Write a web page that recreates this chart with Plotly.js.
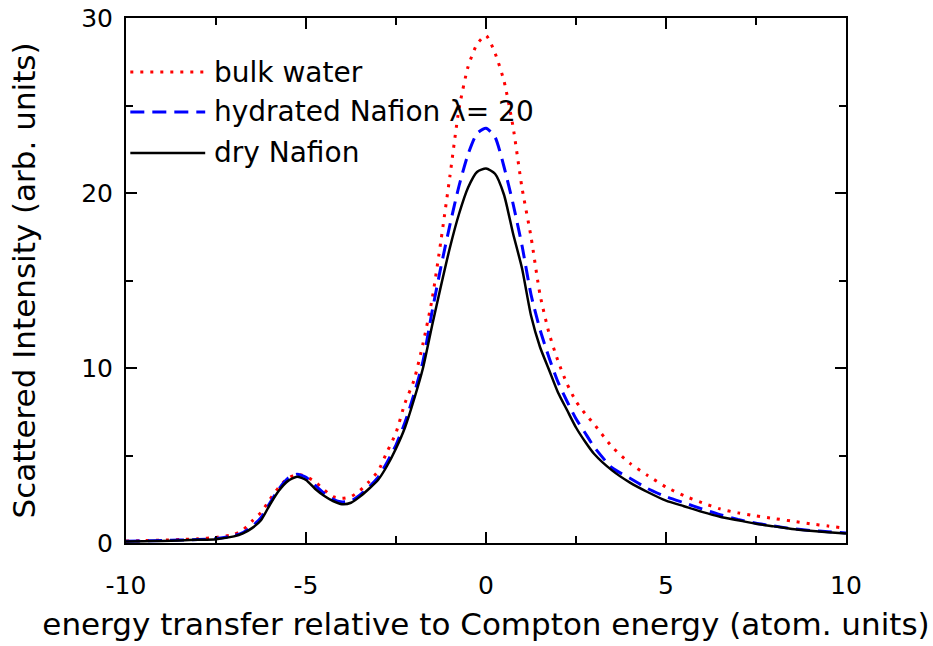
<!DOCTYPE html>
<html>
<head>
<meta charset="utf-8">
<script src="https://cdn.plot.ly/plotly-3.0.1.min.js"></script>
<style>html,body{margin:0;padding:0;background:#fff;}#chart{width:933px;height:646px;}</style>
</head>
<body>
<div id="chart"></div>
<script>
// energy transfer relative to Compton energy (atom. units)
const energy = [-10, -9.5, -9, -8.5, -8, -7.5, -7, -6.75, -6.5, -6.25, -6, -5.75, -5.5, -5.25, -5, -4.75, -4.5, -4.25, -4, -3.75, -3.5, -3.25, -3, -2.75, -2.5, -2.25, -2, -1.75, -1.5, -1.25, -1, -0.75, -0.5, -0.25, 0, 0.25, 0.5, 0.75, 1, 1.25, 1.5, 1.75, 2, 2.25, 2.5, 2.75, 3, 3.5, 4, 4.5, 5, 5.5, 6, 6.5, 7, 7.5, 8, 8.5, 9, 9.5, 10];

const bulkWater = [0.11, 0.14, 0.16, 0.2, 0.24, 0.32, 0.5, 0.75, 1.25, 1.75, 2.5, 3.2, 3.7, 3.93, 3.8, 3.5, 3.05, 2.65, 2.55, 2.65, 3.0, 3.5, 4.1, 5.2, 6.3, 8.0, 9.3, 11.4, 13.9, 17.3, 21.0, 24.8, 27.2, 28.5, 29.0, 28.0, 26.4, 23.8, 20.3, 17.5, 14.2, 12.0, 10.4, 9.1, 8.1, 7.4, 6.8, 5.5, 4.55, 3.85, 3.2, 2.7, 2.3, 1.95, 1.72, 1.55, 1.4, 1.25, 1.1, 0.97, 0.84];

const hydratedNafion = [0.1, 0.12, 0.14, 0.17, 0.2, 0.25, 0.42, 0.6, 0.95, 1.45, 2.3, 3.1, 3.7, 3.93, 3.75, 3.3, 2.85, 2.5, 2.35, 2.4, 2.75, 3.2, 3.75, 4.6, 5.6, 6.9, 8.5, 10.4, 13.2, 15.8, 18.2, 20.4, 22.2, 23.4, 23.7, 23.2, 21.5, 19.4, 17.0, 14.2, 12.2, 10.6, 9.2, 8.1, 7.1, 6.3, 5.5, 4.3, 3.7, 3.1, 2.65, 2.3, 1.95, 1.62, 1.35, 1.13, 0.97, 0.82, 0.72, 0.64, 0.57];

const dryNafion = [0.08, 0.1, 0.12, 0.15, 0.18, 0.22, 0.38, 0.55, 0.85, 1.3, 2.2, 3.0, 3.55, 3.79, 3.6, 3.1, 2.7, 2.4, 2.22, 2.3, 2.65, 3.1, 3.6, 4.4, 5.4, 6.6, 8.2, 10.0, 12.4, 14.7, 16.9, 18.8, 20.3, 21.2, 21.4, 21.1, 19.9, 17.7, 15.7, 13.0, 11.2, 9.9, 8.6, 7.6, 6.6, 5.8, 5.1, 4.15, 3.45, 2.9, 2.42, 2.1, 1.78, 1.5, 1.3, 1.1, 0.95, 0.8, 0.7, 0.62, 0.55];

const seriesNames = ["bulk water", "hydrated Nafion \u03bb= 20", "dry Nafion"];
const xTickVals = [-10, -5, 0, 5, 10];
const yTickVals = [0, 10, 20, 30];

const FONT = "DejaVu Sans, Liberation Sans, Arial, sans-serif";
const styles = [
  {color: "#ff0000", width: 3, dash: "3px,7px"},
  {color: "#0000ff", width: 3, dash: "14px,8px"},
  {color: "#000000", width: 2.5, dash: "solid"}
];
const seriesData = [bulkWater, hydratedNafion, dryNafion];

const traces = seriesData.map((ys, i) => ({
  x: energy, y: ys, name: seriesNames[i], type: "scatter", mode: "lines",
  line: {color: styles[i].color, width: styles[i].width, dash: styles[i].dash, shape: "spline", smoothing: 0.6},
  showlegend: false, hoverinfo: "skip"
}));

// manual legend (line samples + labels)
const legendY = [0.897, 0.821, 0.743];
const shapes = [];
const annotations = [];
seriesNames.forEach((nm, i) => {
  shapes.push({type: "line", xref: "paper", yref: "paper", x0: 0.006, x1: 0.110, y0: legendY[i], y1: legendY[i],
    line: {color: styles[i].color, width: styles[i].width, dash: styles[i].dash}});
  annotations.push({xref: "paper", yref: "paper", x: 0.120, y: legendY[i], xanchor: "left", yanchor: "middle",
    text: nm, showarrow: false, font: {family: FONT, size: 28, color: "#000"}});
});

const axisCommon = {
  showgrid: false, zeroline: false, showline: true, linecolor: "#000", linewidth: 2,
  mirror: "ticks", ticks: "inside", ticklen: 11, tickwidth: 2, tickcolor: "#000",
  tickfont: {family: FONT, size: 25, color: "#000"}
};

const layout = {
  width: 933, height: 646,
  margin: {l: 126, r: 87, t: 18, b: 103},
  paper_bgcolor: "#fff", plot_bgcolor: "#fff",
  xaxis: Object.assign({}, axisCommon, {
    range: [-10, 10], tickvals: xTickVals, ticktext: xTickVals.map(String),
    ticklabelstandoff: 19,
    minor: {dtick: 2.5, tick0: 0, ticks: "inside", ticklen: 7, tickwidth: 2, tickcolor: "#000"},
    title: {text: "energy transfer relative to Compton energy (atom. units)", font: {family: FONT, size: 31, color: "#000"}, standoff: 14}
  }),
  yaxis: Object.assign({}, axisCommon, {
    range: [0, 30], tickvals: yTickVals, ticktext: yTickVals.map(String),
    ticklabelstandoff: 6,
    minor: {dtick: 5, tick0: 0, ticks: "inside", ticklen: 7, tickwidth: 2, tickcolor: "#000"},
    title: {text: "Scattered Intensity (arb. units)", font: {family: FONT, size: 31, color: "#000"}, standoff: 36}
  }),
  shapes: shapes,
  annotations: annotations,
  showlegend: false
};

Plotly.newPlot("chart", traces, layout, {staticPlot: true, displayModeBar: false});
</script>
</body>
</html>
